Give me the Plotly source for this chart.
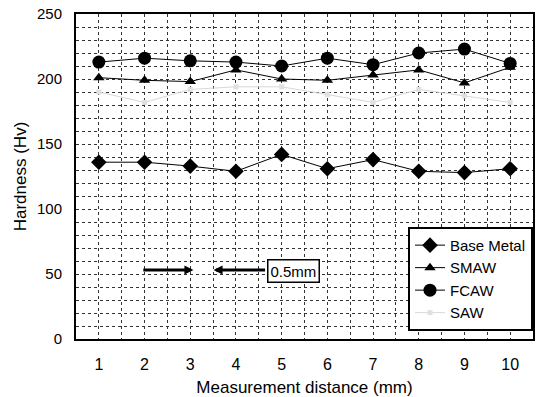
import plotly.graph_objects as go

distance = [1, 2, 3, 4, 5, 6, 7, 8, 9, 10]
base_metal = [136, 136, 133, 129, 142, 131, 138, 129, 128, 131]
smaw = [201, 199, 198, 207, 200, 199, 203, 207, 197, 209]
fcaw = [213, 216, 214, 213, 210, 216, 211, 220, 223, 212]
saw = [190, 182, 192, 194, 194, 188, 182, 192, 187, 182]
series_names = ["Base Metal", "SMAW", "FCAW", "SAW"]

FONT = "Liberation Sans, Arial, sans-serif"
GRID = "#333333"
DASH = "3px,3px"

fig = go.Figure()
fig.add_trace(go.Scatter(x=distance, y=base_metal, name=series_names[0], mode="lines+markers",
                         line=dict(color="black", width=1),
                         marker=dict(symbol="diamond", size=12, color="black")))
fig.add_trace(go.Scatter(x=distance, y=smaw, name=series_names[1], mode="lines+markers",
                         line=dict(color="black", width=1),
                         marker=dict(symbol="triangle-up", size=10, color="black")))
fig.add_trace(go.Scatter(x=distance, y=fcaw, name=series_names[2], mode="lines+markers",
                         line=dict(color="black", width=1),
                         marker=dict(symbol="circle", size=13, color="black")))
fig.add_trace(go.Scatter(x=distance, y=saw, name=series_names[3], mode="lines+markers",
                         line=dict(color="#d8d8d8", width=1),
                         marker=dict(symbol="square", size=5, color="#e0e0e0")))

# 0.5 mm annotation with arrows
fig.add_annotation(x=3.07, y=53, ax=1.94, ay=53, xref="x", yref="y", axref="x", ayref="y",
                   text="", showarrow=True, arrowhead=2, arrowsize=0.6, arrowwidth=3, arrowcolor="black")
fig.add_annotation(x=3.51, y=53, ax=4.67, ay=53, xref="x", yref="y", axref="x", ayref="y",
                   text="", showarrow=True, arrowhead=2, arrowsize=0.6, arrowwidth=3, arrowcolor="black")
fig.add_annotation(x=4.68, y=52, xref="x", yref="y", text="0.5mm", showarrow=False,
                   xanchor="left", yanchor="middle", bordercolor="black", borderwidth=1.5,
                   borderpad=2, bgcolor="white", font=dict(size=15, color="black", family=FONT))

fig.update_layout(
    width=536, height=397,
    margin=dict(l=76, r=3, t=14, b=58, autoexpand=False),
    paper_bgcolor="white", plot_bgcolor="white",
    font=dict(family=FONT, size=15, color="black"),
    showlegend=True,
    legend=dict(x=1, y=0.025, xanchor="right", yanchor="bottom",
                bgcolor="white", bordercolor="black", borderwidth=2,
                font=dict(size=15, family=FONT),
                tracegroupgap=0),
)
fig.update_xaxes(range=[0.5, 10.5], dtick=1, tick0=1, automargin=False,
                 showline=True, linecolor="black", linewidth=2, mirror=True,
                 showgrid=True, gridcolor=GRID, gridwidth=1, griddash=DASH,
                 minor=dict(dtick=0.5, tick0=0.5, showgrid=True, gridcolor=GRID, griddash=DASH, gridwidth=1),
                 ticks="", ticklabelstandoff=10, zeroline=False,
                 tickfont=dict(size=16),
                 title=dict(text="Measurement distance (mm)", standoff=11, font=dict(size=17)))
fig.update_yaxes(range=[0, 250], dtick=50, automargin=False,
                 showline=True, linecolor="black", linewidth=2, mirror=True,
                 showgrid=True, gridcolor=GRID, gridwidth=1, griddash=DASH,
                 minor=dict(dtick=10, showgrid=True, gridcolor=GRID, griddash=DASH, gridwidth=1),
                 ticks="", ticklabelstandoff=9, zeroline=False,
                 tickfont=dict(size=15),
                 title=dict(text="Hardness (Hv)", standoff=6, font=dict(size=17)))

fig.write_html("out.html", config={"displayModeBar": False},
               post_script="document.body.style.margin='0';")
